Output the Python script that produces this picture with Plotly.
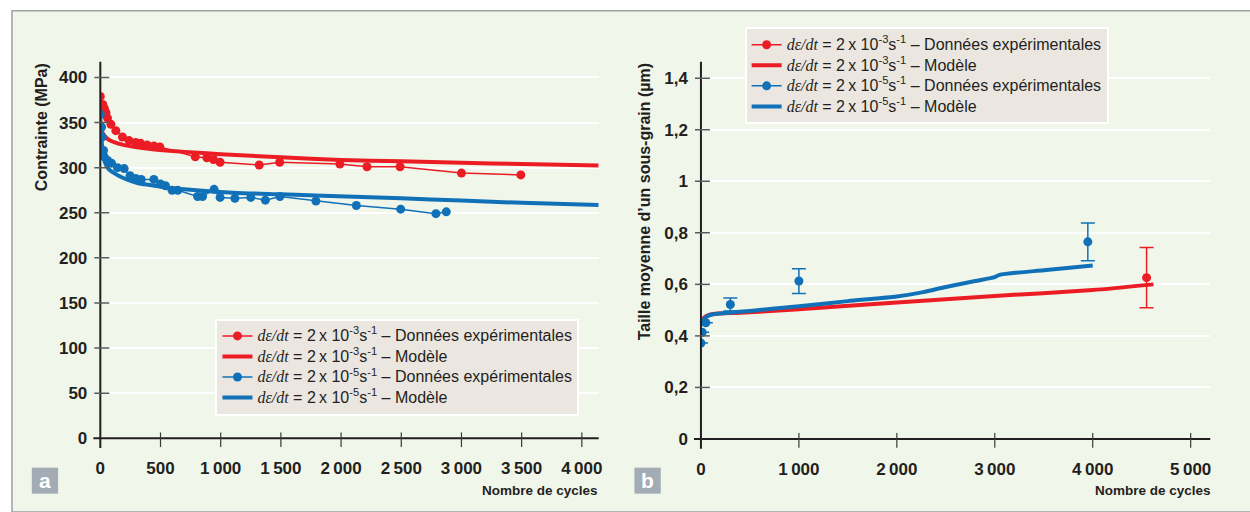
import plotly.graph_objects as go

W, H = 1250, 512

# ---------------- Panel a : stress vs. number of cycles ----------------
red_exp_cycles = [0, 20, 33, 47, 60, 88, 129, 184, 239, 294, 335, 390, 445, 495,
                  789, 885, 940, 995, 1320, 1490, 1990, 2215, 2490, 3000, 3493]
red_exp_stress = [379, 370, 366, 361, 355, 348, 341, 334, 330, 328, 327, 325, 324, 323,
                  312, 311, 309, 306, 303, 306, 304, 301, 301, 294, 292]

blue_exp_cycles = [0, 11, 16, 27, 33, 60, 93, 143, 198, 247, 294, 340, 445, 500, 541,
                   596, 643, 808, 849, 945, 995, 1118, 1250, 1371, 1492, 1791, 2127,
                   2495, 2788, 2874]
blue_exp_stress = [359, 345, 334, 319, 312, 308, 305, 300, 299, 291, 288, 287, 287, 282,
                   280, 275, 275, 268, 268, 276, 267, 266, 267, 264, 268, 263, 258,
                   254, 249, 251]

red_model_cycles = [0, 10, 30, 60, 100, 200, 400, 700, 1000, 1500, 2000, 2500, 3000,
                    3500, 4140]
red_model_stress = [352, 342, 336, 332, 329, 325, 321, 317.5, 315, 311.5, 308.5, 307,
                    305.5, 304, 302.5]

blue_model_cycles = [0, 5, 15, 33, 60, 115, 200, 308, 450, 583, 800, 1132, 1500, 1847,
                     2500, 3000, 3500, 4140]
blue_model_stress = [357, 335, 318, 308, 300, 294, 288, 283, 280, 277.5, 275, 272,
                     270.5, 269, 266, 263.5, 261, 258.7]

a_xticks = [0, 500, 1000, 1500, 2000, 2500, 3000, 3500, 4000]
a_xticktext = ["0", "500", "1\u2009000", "1\u2009500", "2\u2009000", "2\u2009500",
               "3\u2009000", "3\u2009500", "4\u2009000"]
a_yticks = [0, 50, 100, 150, 200, 250, 300, 350, 400]
a_yticktext = [str(v) for v in a_yticks]

# ---------------- Panel b : mean sub-grain size ----------------
blue_size_cycles = [0, 13, 50, 300, 1000, 3950]
blue_size_um = [0.372, 0.414, 0.451, 0.522, 0.613, 0.765]
blue_size_err = [None, None, None, 0.025, 0.048, 0.073]

red_size_cycles = [4550]
red_size_um = [0.626]
red_size_err = [0.117]

blue_size_model_cycles = [0, 30, 60, 100, 200, 500, 1000, 1500, 2000, 2270, 2500, 2800,
                          3000, 3050, 3500, 4000]
blue_size_model_um = [0.44, 0.465, 0.475, 0.482, 0.487, 0.497, 0.515, 0.535, 0.553,
                      0.57, 0.59, 0.613, 0.628, 0.637, 0.655, 0.673]

red_size_model_cycles = [0, 30, 60, 125, 400, 1000, 2000, 3000, 4000, 4620]
red_size_model_um = [0.445, 0.47, 0.478, 0.485, 0.49, 0.503, 0.53, 0.555, 0.578, 0.6]

b_xticks = [0, 1000, 2000, 3000, 4000, 5000]
b_xticktext = ["0", "1\u2009000", "2\u2009000", "3\u2009000", "4\u2009000", "5\u2009000"]
b_yticks = [0, 0.2, 0.4, 0.6, 0.8, 1.0, 1.2, 1.4]
b_yticktext = ["0", "0,2", "0,4", "0,6", "0,8", "1", "1,2", "1,4"]

# ---------------- styling ----------------
RED = "#ec1c24"
BLUE = "#1071b8"
INK = "#231f20"
PANEL = "#f1f6ea"
PLOT_BG = "#d9e0e6"
LEGEND_BG = "#ebe6e0"
FONT = "Liberation Sans"


def legend_label(exponent, kind):
    math = '<span style="font-family:Liberation Serif"><i>d\u03b5/dt</i></span>'
    body = (math + " = 2\u2009x 10<sup>-%d</sup>s<sup>-1</sup> \u2013 %s" % (exponent, kind))
    return '<span style="font-size:16px">' + body + "</span>"


lab_fast_exp = legend_label(3, "Donn\u00e9es exp\u00e9rimentales")
lab_fast_mod = legend_label(3, "Mod\u00e8le")
lab_slow_exp = legend_label(5, "Donn\u00e9es exp\u00e9rimentales")
lab_slow_mod = legend_label(5, "Mod\u00e8le")


def isolated(values):
    """Interleave None so that lines+markers draws points without joining them."""
    out = []
    for v in values:
        out += [v, None]
    return out[:-1]


def bold(labels):
    return ["<b>%s</b>" % t for t in labels]


fig = go.Figure()

# panel a traces
fig.add_trace(go.Scatter(x=red_exp_cycles, y=red_exp_stress, mode="lines+markers",
                         line=dict(color=RED, width=1.5), marker=dict(color=RED, size=9),
                         name=lab_fast_exp, xaxis="x", yaxis="y", legend="legend"))
fig.add_trace(go.Scatter(x=red_model_cycles, y=red_model_stress, mode="lines",
                         line=dict(color=RED, width=4, shape="spline", smoothing=0.6),
                         name=lab_fast_mod, xaxis="x", yaxis="y", legend="legend"))
fig.add_trace(go.Scatter(x=blue_exp_cycles, y=blue_exp_stress, mode="lines+markers",
                         line=dict(color=BLUE, width=1.5), marker=dict(color=BLUE, size=9),
                         name=lab_slow_exp, xaxis="x", yaxis="y", legend="legend"))
fig.add_trace(go.Scatter(x=blue_model_cycles, y=blue_model_stress, mode="lines",
                         line=dict(color=BLUE, width=4, shape="spline", smoothing=0.6),
                         name=lab_slow_mod, xaxis="x", yaxis="y", legend="legend"))

# panel b traces
fig.add_trace(go.Scatter(x=isolated(red_size_cycles), y=isolated(red_size_um),
                         mode="lines+markers", line=dict(color=RED, width=1.5),
                         marker=dict(color=RED, size=9),
                         error_y=dict(type="data", array=isolated(red_size_err),
                                      color=RED, thickness=1.5, width=7),
                         name=lab_fast_exp, xaxis="x2", yaxis="y2", legend="legend2"))
fig.add_trace(go.Scatter(x=red_size_model_cycles, y=red_size_model_um, mode="lines",
                         line=dict(color=RED, width=4, shape="spline", smoothing=0.6),
                         name=lab_fast_mod, xaxis="x2", yaxis="y2", legend="legend2"))
fig.add_trace(go.Scatter(x=isolated(blue_size_cycles), y=isolated(blue_size_um),
                         mode="lines+markers", line=dict(color=BLUE, width=1.5),
                         marker=dict(color=BLUE, size=9),
                         error_y=dict(type="data", array=isolated(blue_size_err),
                                      color=BLUE, thickness=1.5, width=7),
                         name=lab_slow_exp, xaxis="x2", yaxis="y2", legend="legend2"))
fig.add_trace(go.Scatter(x=blue_size_model_cycles, y=blue_size_model_um, mode="lines",
                         line=dict(color=BLUE, width=4, shape="spline", smoothing=0.6),
                         name=lab_slow_mod, xaxis="x2", yaxis="y2", legend="legend2"))

# plot-area geometry in pixels
A_LEFT, A_RIGHT, A_TOP, A_BOTTOM = 96, 598, 63, 447
B_LEFT, B_RIGHT, B_TOP, B_BOTTOM = 701, 1214, 63, 447.7

tickfont = dict(family=FONT, size=17, color=INK)
common_x = dict(showgrid=False, zeroline=False, showline=False, ticks="",
                tickfont=tickfont, ticklabelstandoff=18, tickmode="array")
common_y = dict(showgrid=True, gridcolor="white", gridwidth=2, zeroline=False,
                showline=False, ticks="", tickfont=tickfont, ticklabelstandoff=12,
                tickmode="array")

legend_common = dict(xanchor="left", yanchor="top", bgcolor=LEGEND_BG,
                     bordercolor="white", borderwidth=2, itemwidth=30,
                     tracegroupgap=0,
                     font=dict(family=FONT, size=13.5, color=INK))

fig.update_layout(
    width=W, height=H,
    margin=dict(l=0, r=0, t=0, b=0, pad=0),
    paper_bgcolor="white", plot_bgcolor=PLOT_BG,
    font=dict(family=FONT, color=INK),
    xaxis=dict(domain=[A_LEFT / W, A_RIGHT / W], range=[0, 4140],
               tickvals=a_xticks, ticktext=bold(a_xticktext), anchor="y", **common_x),
    yaxis=dict(domain=[1 - A_BOTTOM / H, 1 - A_TOP / H], range=[0, 417.4],
               tickvals=a_yticks, ticktext=bold(a_yticktext), anchor="x", **common_y),
    xaxis2=dict(domain=[B_LEFT / W, B_RIGHT / W], range=[0, 5200],
                tickvals=b_xticks, ticktext=bold(b_xticktext), anchor="y2", **common_x),
    yaxis2=dict(domain=[1 - B_BOTTOM / H, 1 - B_TOP / H], range=[0, 1.464],
                tickvals=b_yticks, ticktext=bold(b_yticktext), anchor="x2", **common_y),
    legend=dict(x=212 / W, y=1 - 325 / H, **legend_common),
    legend2=dict(x=745 / W, y=1 - 28 / H, **legend_common),
)

shapes = []
# light panel background with its grey top/left border
shapes.append(dict(type="rect", xref="paper", yref="paper", layer="below",
                   x0=7 / W, x1=1.02, y0=-0.02, y1=1 - 11 / H,
                   fillcolor=PANEL, line=dict(color="#9ba1a2", width=1.5)))


def axis_decor(xr, yr, width_px, height_px, xticks, yticks):
    out = []
    # axis lines, crossing each other at the origin
    out.append(dict(type="line", xref=xr + " domain", yref=yr + " domain",
                    x0=0, x1=0, y0=-10 / height_px, y1=1,
                    line=dict(color=INK, width=2)))
    out.append(dict(type="line", xref=xr + " domain", yref=yr + " domain",
                    x0=-7 / width_px, x1=1, y0=0, y1=0,
                    line=dict(color=INK, width=2)))
    # crossing tick marks
    for v in xticks[1:]:
        out.append(dict(type="line", xref=xr, yref=yr + " domain", x0=v, x1=v,
                        y0=-9 / height_px, y1=6 / height_px,
                        line=dict(color="#3a3a3a", width=1.2)))
    for v in yticks[1:]:
        out.append(dict(type="line", xref=xr + " domain", yref=yr, y0=v, y1=v,
                        x0=-6 / width_px, x1=9 / width_px,
                        line=dict(color="#5a5a5a", width=1.5)))
    return out


shapes += axis_decor("x", "y", A_RIGHT - A_LEFT, A_BOTTOM - A_TOP, a_xticks, a_yticks)
shapes += axis_decor("x2", "y2", B_RIGHT - B_LEFT, B_BOTTOM - B_TOP, b_xticks, b_yticks)

# panel letter boxes
for x0 in (27, 634):
    shapes.append(dict(type="rect", xref="paper", yref="paper",
                       x0=x0 / W, x1=(x0 + 26.5) / W, y0=1 - 503.5 / H, y1=1 - 477 / H,
                       fillcolor="#a3abb4", line=dict(width=0)))
fig.update_layout(shapes=shapes)

annotations = [
    dict(text="<b>Contrainte (MPa)</b>", x=37 / W, y=1 - 130 / H, textangle=-90, size=16),
    dict(text="<b>Taille moyenne d\u2019un sous-grain (\u00b5m)</b>", x=645 / W,
         y=1 - 206 / H, textangle=-90, size=16),
    dict(text="<b>Nombre de cycles</b>", x=599 / W, y=1 - 500 / H, xanchor="right",
         size=13.5),
    dict(text="<b>Nombre de cycles</b>", x=1217 / W, y=1 - 500 / H, xanchor="right",
         size=13.5),
]
for a in annotations:
    size = a.pop("size")
    a.update(xref="paper", yref="paper", showarrow=False,
             font=dict(family=FONT, size=size, color=INK))
    a.setdefault("xanchor", "center")
    a.setdefault("yanchor", "middle")
letter_font = dict(family=FONT, size=21, color="white")
annotations += [
    dict(text="<b>a</b>", x=40.5 / W, y=1 - 490 / H, xref="paper", yref="paper",
         showarrow=False, font=letter_font, xanchor="center", yanchor="middle"),
    dict(text="<b>b</b>", x=647.5 / W, y=1 - 490 / H, xref="paper", yref="paper",
         showarrow=False, font=letter_font, xanchor="center", yanchor="middle"),
]
fig.update_layout(annotations=annotations)

fig.write_html("out.html")
